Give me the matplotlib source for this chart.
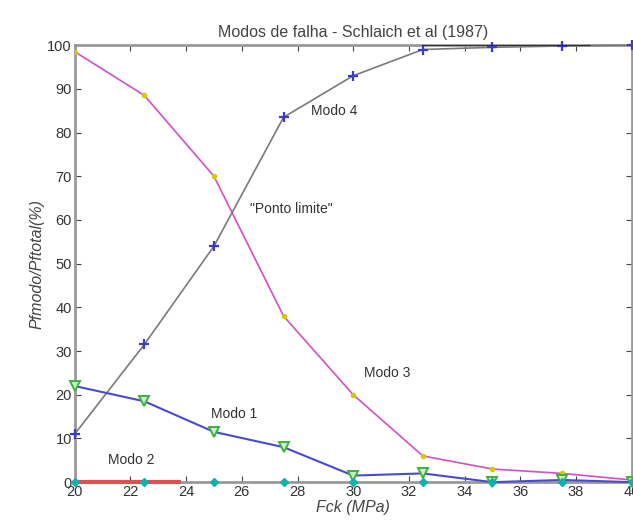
import matplotlib
matplotlib.use("Agg")
import matplotlib.pyplot as plt

plt.rcParams['font.family'] = ['Liberation Sans', 'DejaVu Sans']

# ---- data ----
fck = [20, 22.5, 25, 27.5, 30, 32.5, 35, 37.5, 40]
modo1 = [22, 18.5, 11.5, 8, 1.5, 2, 0, 0.5, 0]
modo2 = [0, 0, 0, 0, 0, 0, 0, 0, 0]
modo2_red_x = [20, 23.8]
modo2_red_y = [0, 0]
modo3 = [98.5, 88.5, 70, 38, 20, 6, 3, 2, 0.5]
modo4 = [11, 31.5, 54, 83.5, 93, 99, 99.5, 99.8, 100]
top_black_x = [32.5, 38.5]
top_black_y = [100, 100]

xticks = list(range(20, 41, 2))
yticks = list(range(0, 101, 10))

labels = [("Modo 4", 28.5, 85), ('"Ponto limite"', 26.3, 62.5),
          ("Modo 3", 30.4, 25), ("Modo 1", 24.9, 15.5), ("Modo 2", 21.2, 5)]

fig = plt.figure(figsize=(6.33, 5.31), dpi=100)
ax = fig.add_axes([0.118, 0.092, 0.880, 0.823])

ax.plot(fck, modo3, color='#d050c8', lw=1.2, marker='o', ms=3,
        mfc='#d8c800', mec='#d8c800', zorder=3)
ax.plot(fck, modo4, color='#7a7a7a', lw=1.2, marker='+', ms=7, mew=1.6,
        mec='#3a3ad0', zorder=3, clip_on=False)
ax.plot(top_black_x, top_black_y, color='#202020', lw=1.2, zorder=3)
ax.plot(fck, modo1, color='#4a4ad0', lw=1.5, marker='v', ms=7,
        mfc='#c8f0c8', mec='#40b040', mew=1.4, zorder=4, clip_on=False)
ax.plot(modo2_red_x, modo2_red_y, color='#e05050', lw=3, zorder=4,
        clip_on=False, solid_capstyle='butt')
ax.plot(fck, modo2, ls='none', marker='D', ms=4, mfc='#10b0b0',
        mec='#10b0b0', zorder=5, clip_on=False)

for t, x, y in labels:
    ax.text(x, y, t, fontsize=10, color='#333333', ha='left', va='center')

ax.set_xlim(20, 40)
ax.set_ylim(0, 100)
ax.set_xticks(xticks)
ax.set_yticks(yticks)
ax.tick_params(direction='in', top=True, right=True, length=4,
               labelsize=10.5, colors='#444444', labelcolor='#333333', pad=2)
for s in ax.spines.values():
    s.set_color('#999999')
    s.set_linewidth(2)

ax.set_title('Modos de falha - Schlaich et al (1987)', fontsize=11.5,
             color='#444444', pad=6)
ax.set_xlabel('Fck (MPa)', fontsize=11.5, style='italic', color='#444444', labelpad=1)
ax.set_ylabel('Pfmodo/Pftotal(%)', fontsize=11.5, style='italic', color='#444444', labelpad=2)

fig.savefig('out.png', dpi=100)
